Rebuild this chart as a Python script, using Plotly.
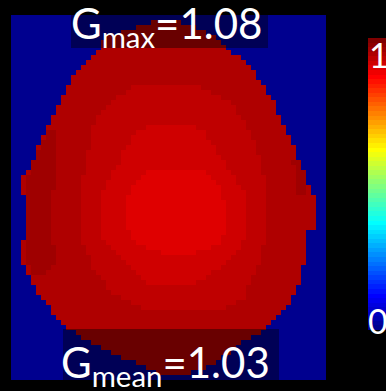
import numpy as np
import plotly.graph_objects as go

# ---------------------------------------------------------------
# Normalised G map on a 5-unit grid (63 x 73 cells).
# Each region is an outline (x, y in map units, y downward); cells whose
# centre falls inside an outline take that region's value.
# ---------------------------------------------------------------
CELL = 5
N_COLS, N_ROWS = 63, 73

outer_x = [139, 144, 166, 174, 189, 201, 209, 215, 227, 232, 237, 242, 249, 254,
           259, 264, 269, 273, 277, 282, 287, 292, 297, 304, 304, 297, 297, 292,
           292, 287, 282, 277, 271, 266, 261, 256, 249, 239, 229, 219, 204, 189,
           174, 149, 134, 119, 102, 89, 76, 64, 54, 46, 39, 34, 27, 22, 17, 14,
           9, 9, 14, 14, 9, 9, 16, 21, 26, 31, 36, 41, 46, 51, 57, 62, 69, 74,
           79, 86, 89, 94, 101, 109, 124]
outer_y = [9, 5, 5, 9, 15, 21, 28, 35, 40, 45, 50, 55, 65, 73,
           80, 90, 103, 113, 120, 130, 145, 160, 168, 182, 213, 215, 245, 250,
           268, 273, 283, 290, 297, 302, 307, 312, 317, 322, 330, 338, 347, 355,
           359, 359, 353, 345, 339, 332, 325, 318, 312, 303, 295, 285, 277, 270, 260, 250,
           245, 225, 225, 182, 180, 165, 157, 147, 135, 125, 113, 100, 92, 83, 72, 63, 55, 48,
           43, 37, 31, 25, 20, 17, 13]

left_lobe_x = [41, 46, 44, 42, 42, 44, 39, 22, 16, 14, 14, 17, 24, 34]
left_lobe_y = [110, 125, 150, 185, 225, 247, 257, 260, 247, 225, 185, 160, 140, 125]

right_lobe_x = [282, 289, 294, 297, 289, 284]
right_lobe_y = [143, 143, 160, 177, 182, 170]

ring_x = [122, 186, 196, 206, 216, 231, 239, 246, 251, 254, 256, 252, 246, 239,
          232, 219, 204, 139, 129, 112, 99, 92, 82, 74, 69, 69, 71, 76, 79, 82,
          86, 91, 96, 102, 112, 116]
ring_y = [70, 70, 75, 80, 85, 102, 118, 135, 152, 168, 202, 235, 252, 268,
          285, 292, 296, 296, 292, 285, 275, 265, 252, 235, 218, 185, 168, 145, 128, 112,
          102, 95, 90, 85, 80, 75]

inner_x = [149, 177, 192, 199, 206, 212, 217, 226, 236, 236, 229, 216, 199, 182,
           142, 129, 114, 99, 91, 91, 96, 104, 109, 116, 121, 129]
inner_y = [108, 108, 115, 125, 135, 145, 155, 165, 182, 215, 232, 248, 258, 272,
           272, 260, 248, 232, 222, 178, 165, 155, 145, 130, 123, 115]

core_x = [139, 189, 199, 209, 213, 213, 207, 194, 182, 156, 134, 122, 116, 116, 122, 129]
core_y = [153, 153, 162, 172, 185, 218, 230, 235, 239, 239, 233, 225, 212, 185, 172, 160]

# region values (painted in this order)
regions = [
    ("outer", outer_x, outer_y, 0.945),
    ("left lobe", left_lobe_x, left_lobe_y, 0.961),
    ("right lobe", right_lobe_x, right_lobe_y, 0.961),
    ("ring", ring_x, ring_y, 0.930),
    ("inner", inner_x, inner_y, 0.914),
    ("core", core_x, core_y, 0.898),
]
background_value = 0.0

g_max_text = "G<sub>max</sub>=1.08"
g_mean_text = "G<sub>mean</sub>=1.03"
cbar_ticks = ["0", "1"]
N_COLORS = 64


def inside(px, py, vx, vy):
    """Even-odd point-in-polygon test on arrays of points."""
    vx = np.asarray(vx, float)
    vy = np.asarray(vy, float)
    res = np.zeros(px.shape, bool)
    j = len(vx) - 1
    for i in range(len(vx)):
        xi, yi, xj, yj = vx[i], vy[i], vx[j], vy[j]
        cond = (yi > py) != (yj > py)
        with np.errstate(divide="ignore", invalid="ignore"):
            xcross = (xj - xi) * (py - yi) / (yj - yi) + xi
        res ^= cond & (px < xcross)
        j = i
    return res


xc = (np.arange(N_COLS) + 0.5) * CELL
yc = (np.arange(N_ROWS) + 0.5) * CELL
PX, PY = np.meshgrid(xc, yc)
z = np.full(PX.shape, background_value)
for _, vx, vy, val in regions:
    z[inside(PX, PY, vx, vy)] = val


def jet(m=64):
    """MATLAB-style jet colormap with m entries (m divisible by 4)."""
    n = m // 4
    u = np.concatenate([np.arange(1, n + 1) / n, np.ones(n - 1), np.arange(n, 0, -1) / n])
    g = n // 2 + np.arange(1, len(u) + 1)
    r = g + n
    b = g - n
    cmap = np.zeros((m, 3))
    for ch, idx in enumerate((r, g, b)):
        ok = (idx >= 1) & (idx <= m)
        cmap[idx[ok] - 1, ch] = u[ok]
    return cmap


cmap = jet(N_COLORS)
colorscale = []
for k, (r, g, b) in enumerate(cmap):
    c = f"rgb({round(r*255)},{round(g*255)},{round(b*255)})"
    colorscale.append([k / N_COLORS, c])
    colorscale.append([(k + 1) / N_COLORS, c])

W, H = 386, 391


def fx(p):
    return p / W


def fy(p):
    return 1 - p / H


fig = go.Figure()
fig.add_trace(go.Heatmap(
    z=z, x0=CELL / 2, dx=CELL, y0=CELL / 2, dy=CELL,
    zmin=0, zmax=1, colorscale=colorscale, showscale=False,
    hoverinfo="skip", xaxis="x", yaxis="y",
))

# colour bar drawn as its own strip of the 64 colour steps
bar_levels = (np.arange(N_COLORS) + 0.5) / N_COLORS
fig.add_trace(go.Heatmap(
    z=bar_levels.reshape(-1, 1), x0=0, dx=1,
    y0=bar_levels[0], dy=1 / N_COLORS,
    zmin=0, zmax=1, colorscale=colorscale, showscale=False,
    hoverinfo="skip", xaxis="x2", yaxis="y2",
))

# translucent boxes behind the two labels
fig.add_shape(type="rect", xref="x", yref="y", x0=60, x1=257, y0=-20, y1=33,
              fillcolor="rgba(0,0,0,0.4)", line_width=0, layer="above")
fig.add_shape(type="rect", xref="x", yref="y", x0=52, x1=268, y0=314, y1=380,
              fillcolor="rgba(0,0,0,0.4)", line_width=0, layer="above")

font = dict(family="Lato", color="white", size=42)
fig.add_annotation(text=g_max_text, xref="paper", yref="paper",
                   x=fx(69), y=fy(-4),
                   xanchor="left", yanchor="top", showarrow=False, font=font)
fig.add_annotation(text=g_mean_text, xref="paper", yref="paper",
                   x=fx(59), y=fy(335),
                   xanchor="left", yanchor="top", showarrow=False, font=font)

tick_font = dict(family="Lato", color="white", size=34)
fig.add_annotation(text=cbar_ticks[1], xref="paper", yref="paper",
                   x=fx(367), y=fy(32),
                   xanchor="left", yanchor="top", showarrow=False, font=tick_font)
fig.add_annotation(text=cbar_ticks[0], xref="paper", yref="paper",
                   x=fx(366), y=fy(298),
                   xanchor="left", yanchor="top", showarrow=False, font=tick_font)

axis_off = dict(visible=False, showgrid=False, zeroline=False, fixedrange=True)
fig.update_layout(
    width=W, height=H, autosize=False,
    margin=dict(l=0, r=0, t=0, b=0, pad=0),
    paper_bgcolor="black", plot_bgcolor="black",
    showlegend=False,
    xaxis=dict(domain=[fx(11), fx(326)], range=[0, N_COLS * CELL], **axis_off),
    yaxis=dict(domain=[fy(380), fy(15)], range=[N_ROWS * CELL, 0], **axis_off),
    xaxis2=dict(domain=[fx(368), 1], range=[-0.5, 0.5], anchor="y2", **axis_off),
    yaxis2=dict(domain=[fy(330), fy(38)], range=[0, 1], anchor="x2", **axis_off),
)

fig.write_html("out.html", config={"displayModeBar": False})
